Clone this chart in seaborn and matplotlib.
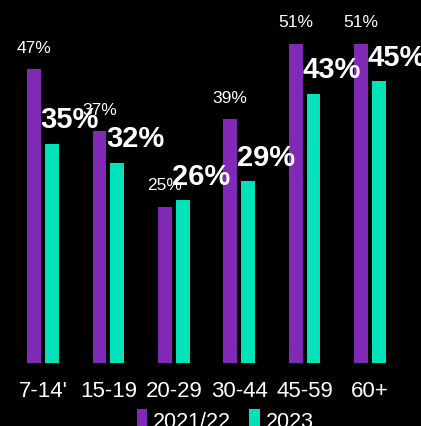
import matplotlib
matplotlib.use("Agg")
import matplotlib.pyplot as plt
import seaborn as sns
import pandas as pd
from matplotlib.patches import Patch

categories = ["7-14'", "15-19", "20-29", "30-44", "45-59", "60+"]
series_names = ["2021/22", "2023"]
values_2021 = [47, 37, 25, 39, 51, 51]
values_2023 = [35, 32, 26, 29, 43, 45]
colors = ["#8029B7", "#00E3B9"]

df = pd.DataFrame({
    "age": categories * 2,
    "year": [series_names[0]] * len(categories) + [series_names[1]] * len(categories),
    "value": values_2021 + values_2023,
})

sns.set_theme(style="white")
plt.rcParams["font.family"] = ["Liberation Sans", "DejaVu Sans"]

fig = plt.figure(figsize=(4.21, 4.26), dpi=100, facecolor="black")
ax = fig.add_axes([0, 0.148, 1, 0.852])
ax.set_facecolor("black")

sns.barplot(data=df, x="age", y="value", hue="year", palette=colors,
            width=0.545, gap=0.22, ax=ax, legend=False, saturation=1,
            linewidth=0, edgecolor="none")

ax.set_xlim(-0.657, 5.78)
ax.set_ylim(0, 58)
for s in ax.spines.values():
    s.set_visible(False)
ax.set_yticks([])
ax.set_xlabel("")
ax.set_ylabel("")
ax.tick_params(axis="x", length=0, pad=13, labelsize=16, labelcolor="white")

# Labels
c1, c2 = ax.containers[0], ax.containers[1]
for bar, v in zip(c1, values_2021):
    cx = bar.get_x() + bar.get_width() / 2
    ax.annotate(f"{v}%", (cx, bar.get_height()), xytext=(0, 15),
                textcoords="offset points", ha="center", va="center",
                color="white", fontsize=12.5)
for bar, v in zip(c2, values_2023):
    cx = bar.get_x() + bar.get_width() / 2
    ax.annotate(f"{v}%", (cx, bar.get_height()), xytext=(13, 17),
                textcoords="offset points", ha="center", va="center",
                color="white", fontsize=21, fontweight="bold")

handles = [Patch(facecolor=colors[0], edgecolor="none", label=series_names[0]),
           Patch(facecolor=colors[1], edgecolor="none", label=series_names[1])]
leg = fig.legend(handles=handles, loc="center", bbox_to_anchor=(0.535, 0.012),
                 ncol=2, frameon=False, fontsize=15.5, handlelength=0.47,
                 handleheight=1.2, handletextpad=0.3, columnspacing=0.85)
for t in leg.get_texts():
    t.set_color("white")

fig.savefig("out.png", dpi=100, facecolor="black")
